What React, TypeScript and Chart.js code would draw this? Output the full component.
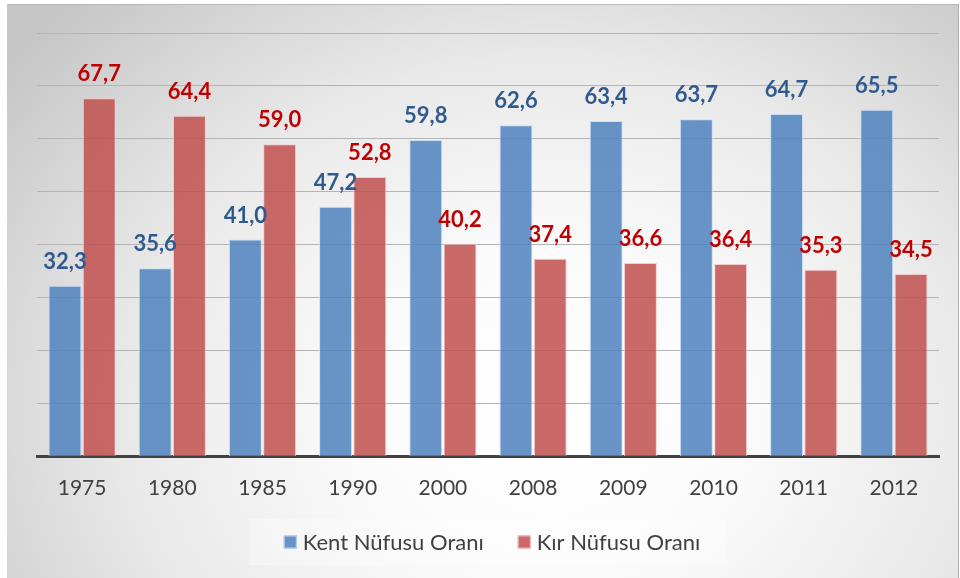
import React, { useEffect, useRef } from "react";
import { Chart, registerables } from "chart.js";

Chart.register(...registerables);

const years = ["1975", "1980", "1985", "1990", "2000", "2008", "2009", "2010", "2011", "2012"];
const kentValues = [32.3, 35.6, 41.0, 47.2, 59.8, 62.6, 63.4, 63.7, 64.7, 65.5];
const kirValues = [67.7, 64.4, 59.0, 52.8, 40.2, 37.4, 36.6, 36.4, 35.3, 34.5];
const seriesNames = ["Kent Nüfusu Oranı", "Kır Nüfusu Oranı"];
const labelColors = ["#2F5A8F", "#C00000"];
const barColors = ["rgba(79,129,189,0.85)", "rgba(192,80,77,0.85)"];
const barBorders = ["rgba(200,220,245,0.9)", "rgba(245,200,200,0.9)"];

const FONT = "Lato, 'Open Sans', sans-serif";

const valueLabelPlugin = {
  id: "valueLabels",
  afterDatasetsDraw(chart: any) {
    const ctx = chart.ctx;
    ctx.save();
    ctx.font = `bold 22px ${FONT}`;
    ctx.textAlign = "center";
    ctx.textBaseline = "alphabetic";
    chart.data.datasets.forEach((ds: any, di: number) => {
      const meta = chart.getDatasetMeta(di);
      ctx.fillStyle = labelColors[di];
      meta.data.forEach((bar: any, i: number) => {
        const v = ds.data[i] as number;
        ctx.fillText(v.toFixed(1).replace(".", ","), bar.x, bar.y - 17);
      });
    });
    ctx.restore();
  },
};

// Custom legend drawn on the canvas, below the axis labels
const legendPlugin = {
  id: "customLegend",
  afterDraw(chart: any) {
    const ctx = chart.ctx;
    const box = 13;
    const gap = 6;
    const spacing = 34;
    const cy = 542;
    ctx.save();
    ctx.font = `22px ${FONT}`;
    const items = chart.data.datasets.map((ds: any, i: number) => {
      const tw = ctx.measureText(ds.label).width;
      return { label: ds.label, w: box + gap + tw, i };
    });
    const total =
      items.reduce((s: number, it: any) => s + it.w, 0) + spacing * (items.length - 1);
    const center = chart.width / 2 + 12;
    let x = center - total / 2;
    // faint background panel
    ctx.fillStyle = "rgba(255,255,255,0.3)";
    ctx.fillRect(x - 35, cy - 23, total + 62, 46);
    ctx.textBaseline = "middle";
    ctx.textAlign = "left";
    items.forEach((it: any) => {
      ctx.fillStyle = barColors[it.i];
      ctx.fillRect(x, cy - box / 2, box, box);
      ctx.strokeStyle = barBorders[it.i];
      ctx.lineWidth = 1;
      ctx.strokeRect(x + 0.5, cy - box / 2 + 0.5, box - 1, box - 1);
      ctx.fillStyle = "#404040";
      ctx.fillText(it.label, x + box + gap, cy + 1);
      x += it.w + spacing;
    });
    ctx.restore();
  },
};

export default function App() {
  const ref = useRef<HTMLCanvasElement | null>(null);

  useEffect(() => {
    if (!ref.current) return;
    const chart = new Chart(ref.current, {
      type: "bar",
      data: {
        labels: years,
        datasets: [
          {
            label: seriesNames[0],
            data: kentValues,
            backgroundColor: barColors[0],
            borderColor: barBorders[0],
            borderWidth: 1,
            categoryPercentage: 0.76,
            barPercentage: 0.96,
          },
          {
            label: seriesNames[1],
            data: kirValues,
            backgroundColor: barColors[1],
            borderColor: barBorders[1],
            borderWidth: 1,
            categoryPercentage: 0.76,
            barPercentage: 0.96,
          },
        ],
      },
      options: {
        animation: false,
        responsive: false,
        maintainAspectRatio: false,
        layout: { padding: { left: 37, right: 21, top: 33, bottom: 58 } },
        plugins: {
          tooltip: { enabled: false },
          title: { display: false },
          legend: { display: false },
        },
        scales: {
          x: {
            grid: { display: false, drawTicks: false },
            border: { display: true, color: "#404040", width: 3 },
            ticks: {
              color: "#404040",
              font: { family: FONT, size: 21 },
              padding: 19,
            },
          },
          y: {
            min: 0,
            max: 80,
            ticks: { display: false, stepSize: 10 },
            grid: { color: "#b4b4b4", lineWidth: 1, drawTicks: false },
            border: { display: false },
          },
        },
      },
      plugins: [valueLabelPlugin, legendPlugin],
    });
    return () => chart.destroy();
  }, []);

  return (
    <div>
      <div
        style={{
          position: "fixed",
          left: 7,
          top: 4,
          width: 951,
          height: 600,
          borderTop: "1px solid #b8b8b8",
          borderRight: "1px solid #b0b0b0",
          background:
            "radial-gradient(ellipse 72% 95% at 57% 68%, #ffffff 0%, #fbfbfb 28%, #e9e9e9 62%, #c6c6c6 100%)",
        }}
      />
      <canvas
        ref={ref}
        width={960}
        height={578}
        style={{ position: "fixed", left: 0, top: 0, width: 960, height: 578 }}
      />
    </div>
  );
}
